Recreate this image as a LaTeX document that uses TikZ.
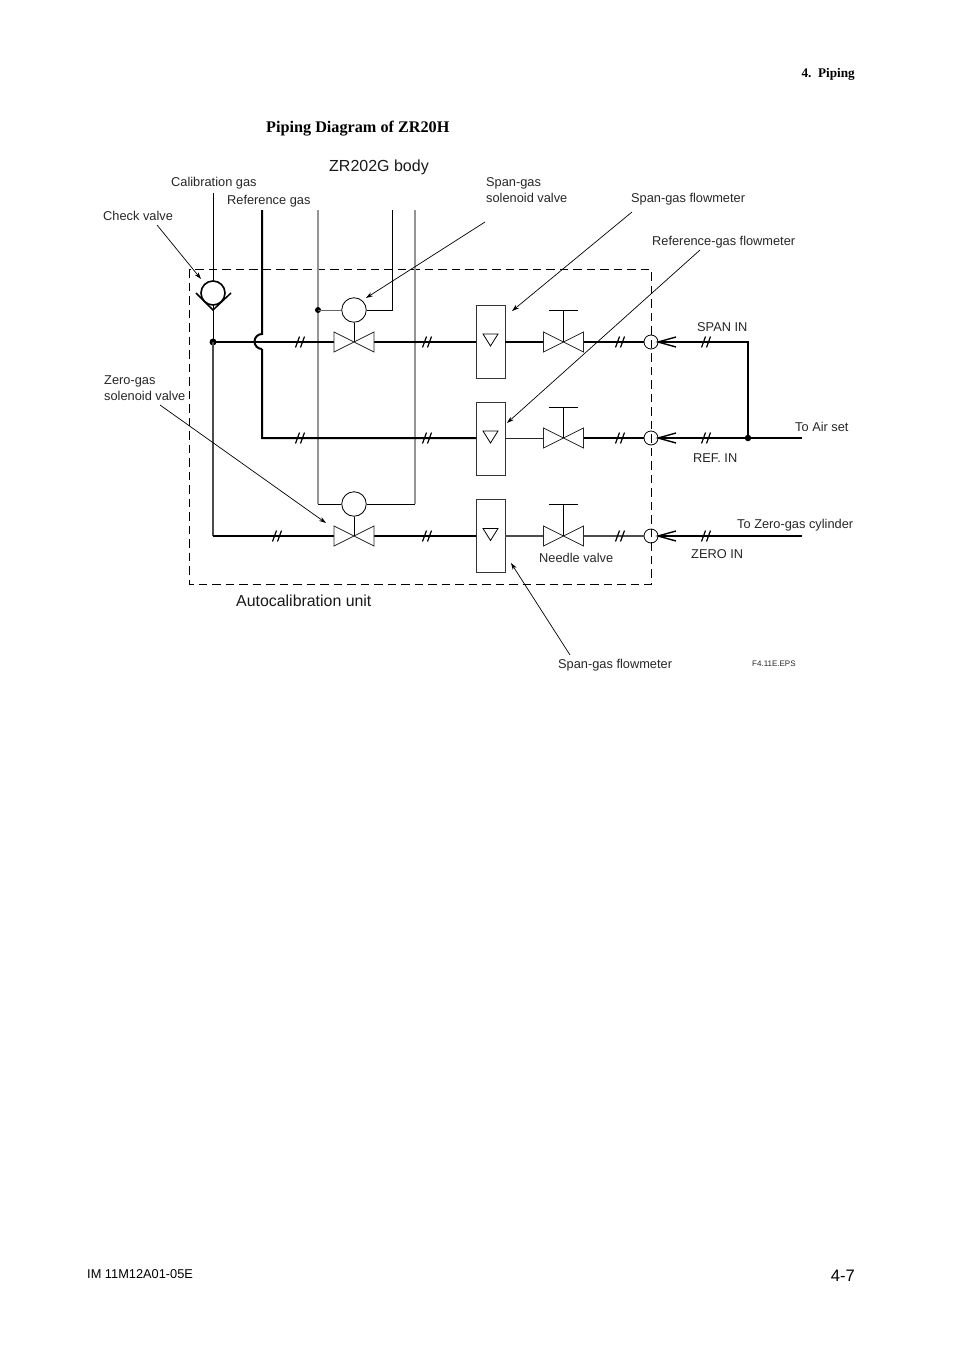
\documentclass[tikz,border=0pt]{standalone}
\usepackage{fontspec}
\setmainfont{Liberation Sans}
\newfontfamily\serifbold[Scale=1]{Liberation Serif}
\usetikzlibrary{arrows.meta}
\tikzset{
  pipe/.style={line width=2pt,line join=miter},
  thinpipe/.style={line width=1pt,black!85},
  midpipe/.style={line width=1.5pt,black!70},
  body/.style={line width=1.4pt,black!42},
  wire/.style={line width=0.8pt},
  frame/.style={line width=0.9pt,dash pattern=on 8.5pt off 5pt},
  callout/.style={line width=0.7pt,-{Stealth[length=7pt,width=4.5pt]}},
  lab/.style={inner sep=0pt,anchor=base west,font=\fontsize{12.8}{16}\selectfont,black!85},
  biglab/.style={inner sep=0pt,anchor=base west,font=\fontsize{16}{18}\selectfont,black!90},
  disc/.style={circle,fill=black,inner sep=0pt,minimum size=7pt},
  solcoil/.style={circle,draw,line width=0.8pt,fill=white,inner sep=0pt,minimum size=24.5pt},
  port/.style={circle,draw,line width=0.8pt,inner sep=0pt,minimum size=14pt},
  meter/.style={draw,line width=0.9pt,black!80,fill=white,inner sep=0pt,minimum width=29pt,minimum height=73pt},
  bow/.style={draw,line width=0.8pt,black!85,fill=white},
  tick/.style={line width=1.2pt}
}
\newcommand{\valvetie}[2]{\filldraw[bow] (#1-20,#2-10)--(#1+20,#2+10)--(#1+20,#2-10)--(#1-20,#2+10)--cycle;}
\newcommand{\slashes}[2]{\draw[tick] (#1-4.5,#2+5.5)--(#1-0.5,#2-5.5) (#1+0.5,#2+5.5)--(#1+4.5,#2-5.5);}
\newcommand{\floatmark}[2]{\draw[wire] (#1-7.5,#2-6)--(#1+7.5,#2-6)--(#1,#2+6)--cycle;}
\begin{document}
\begin{tikzpicture}[x=1pt,y=-1pt]
\useasboundingbox (0,0) rectangle (954,1351);
% named points
\coordinate (calTop) at (213,193);
\coordinate (refTop) at (262,210);
\coordinate (bodyLTop) at (318,210);
\coordinate (bodyRTop) at (415,210);
\coordinate (sigTop) at (392,210);
\coordinate (humpA) at (262,334);
\coordinate (humpB) at (262,349);
\coordinate (corner1) at (262,438);
\coordinate (corner2) at (213,536);
\coordinate (cornerR) at (748,342);
\coordinate (airEnd) at (802,438);
\coordinate (zeroEnd) at (802,536);
\coordinate (v1) at (354,342);
\coordinate (v2) at (354,536);
\coordinate (n1) at (563.5,342);
\coordinate (n2) at (563.5,438);
\coordinate (n3) at (563.5,536);
\coordinate (r1) at (374,342);
\coordinate (r3) at (374,536);
\coordinate (l1) at (334,342);
\coordinate (l3) at (334,536);

% calibration line
\draw[wire] (calTop)--(213,281);
% dashed unit frame
\draw[frame] (189.5,269) rectangle (651,584);

% body lines
\draw[body] (bodyLTop)--(318,504);
\draw[body] (bodyRTop)--(415,504);

% nodes
\node[disc] (jL) at (213,342) {};
\node[disc,minimum size=6pt] (jS) at (318,310) {};
\node[disc,minimum size=6.5pt] (jR) at (748,438) {};
\node[solcoil] (c1) at (354,310) {};
\node[solcoil] (c2) at (354,504) {};
\node[meter] (m1) at (490.5,341.5) {};
\node[meter] (m2) at (490.5,438.5) {};
\node[meter] (m3) at (490.5,535.5) {};
\node[port] (p1) at (651,342) {};
\node[port] (p2) at (651,438) {};
\node[port] (p3) at (651,536) {};
\node[circle,draw,line width=1.6pt,inner sep=0pt,minimum size=24pt] (chk) at (213,293) {};

% check valve V
\draw[line width=1.5pt] (196,293)--(213,310)--(231,293);
% pipes
\draw[wire] (213,305)--(jL.center);
\draw[pipe] (refTop)--(humpA) arc[start angle=-90,delta angle=-180,radius=7.5] (humpB)--(corner1)--(262,438)--(476,438);
\draw[pipe] (jL.center)--(l1);
\draw[midpipe] (jL.center)--(corner2);
\draw[pipe] (corner2)--(l3);
\draw[pipe] (r1)--(476,342);
\draw[pipe] (r3)--(476,536);
\draw[pipe] (505,342)--(544,342);
\draw[pipe] (583,342)--(p1.west);
\draw[thinpipe] (505,438)--(544,438);
\draw[pipe] (583,438)--(p2.west);
\draw[midpipe] (505,536)--(544,536);
\draw[midpipe] (583,536)--(p3.west);
\draw[pipe] (p1.east)--(cornerR)--(jR.center);
\draw[pipe] (p2.east)--(airEnd);
\draw[pipe] (p3.east)--(zeroEnd);

% port arrow chevrons
\foreach \y in {342,438,536}{
  \draw[line width=1.4pt] (676,\y-5)--(658,\y)--(676,\y+5);
}
% signal wiring
\draw[wire] (sigTop)--(392,310)--(c1.east);
\draw[wire,black!60] (jS.center)--(c1.west);
\draw[wire] (318,504)--(c2.west);
\draw[wire] (c2.east)--(415,504);
% valves
\valvetie{354}{342}
\valvetie{354}{536}
\valvetie{563.5}{342}
\valvetie{563.5}{438}
\valvetie{563.5}{536}
\draw[wire] (c1.south)--(v1);
\draw[wire] (c2.south)--(v2);
\foreach \n/\y in {n1/310,n2/407,n3/504}{
  \draw[wire] (\n)--(563.5,\y);
  \draw[wire] (549,\y)--(578,\y);
}
% float marks
\floatmark{490.5}{340}
\floatmark{490.5}{437}
\floatmark{490.5}{534.5}
% ticks
\slashes{300}{342}\slashes{427}{342}\slashes{620}{342}\slashes{706}{342}
\slashes{300}{438}\slashes{427}{438}\slashes{620}{438}\slashes{706}{438}
\slashes{277}{536}\slashes{427}{536}\slashes{620}{536}\slashes{706}{536}

% texts
\node[inner sep=0pt,anchor=base east,font=\serifbold\bfseries\fontsize{13.2}{13}\selectfont] (tHead) at (855,78) {4.\ \ Piping};
\node[inner sep=0pt,anchor=base west,font=\serifbold\bfseries\fontsize{16.2}{18}\selectfont] (tTitle) at (266,132.5) {Piping Diagram of ZR20H};
\node[biglab] (tBody) at (329,171.5) {ZR202G body};
\node[biglab,font=\fontsize{15.9}{18}\selectfont] (tUnit) at (236,606) {Autocalibration unit};
\node[lab] (tCal) at (171,186) {Calibration gas};
\node[lab] (tRef) at (227,204.5) {Reference gas};
\node[lab] (tChk) at (103,220) {Check valve};
\node[lab,align=left,anchor=base west] (tSpanSol) at (486,202.5) {Span-gas\\solenoid valve};
\node[lab] (tSpanFm) at (631,202) {Span-gas flowmeter};
\node[lab] (tRefFm) at (652,245) {Reference-gas flowmeter};
\node[lab] (tSpanIn) at (697,331) {SPAN IN};
\node[lab,align=left,anchor=base west] (tZeroSol) at (104,400.5) {Zero-gas\\solenoid valve};
\node[lab] (tAir) at (795,431) {To Air set};
\node[lab] (tRefIn) at (693,462) {REF. IN};
\node[lab] (tZeroCyl) at (737,528) {To Zero-gas cylinder};
\node[lab] (tZeroIn) at (691,558) {ZERO IN};
\node[lab] (tNeedle) at (539,562) {Needle valve};
\node[lab] (tSpanFm2) at (558,668) {Span-gas flowmeter};
\node[inner sep=0pt,anchor=base west,font=\fontsize{8}{10}\selectfont,black!85] (tEps) at (752,666) {F4.11E.EPS};
\node[inner sep=0pt,anchor=base west,font=\fontsize{12.8}{13}\selectfont] (tDoc) at (87,1278.5) {IM 11M12A01-05E};
\node[inner sep=0pt,anchor=base east,font=\fontsize{16.6}{19}\selectfont] (tPage) at (855,1281) {4-7};

% callout tails
\coordinate (aChk) at (157,225);
\coordinate (aChkE) at (201,279);
\coordinate (aSol) at (485,222);
\coordinate (aSolE) at (366,298);
\coordinate (aSpan) at (632,212);
\coordinate (aSpanE) at (512,311);
\coordinate (aRef) at (700,250);
\coordinate (aRefE) at (507,423);
\coordinate (aZero) at (160,405);
\coordinate (aZeroE) at (326,523);
\coordinate (aBot) at (570,655);
\coordinate (aBotE) at (511,563);
\draw[callout] (aChk)--(aChkE);
\draw[callout] (aSol)--(aSolE);
\draw[callout] (aSpan)--(aSpanE);
\draw[callout] (aRef)--(aRefE);
\draw[callout] (aZero)--(aZeroE);
\draw[callout] (aBot)--(aBotE);
\end{tikzpicture}
\end{document}
